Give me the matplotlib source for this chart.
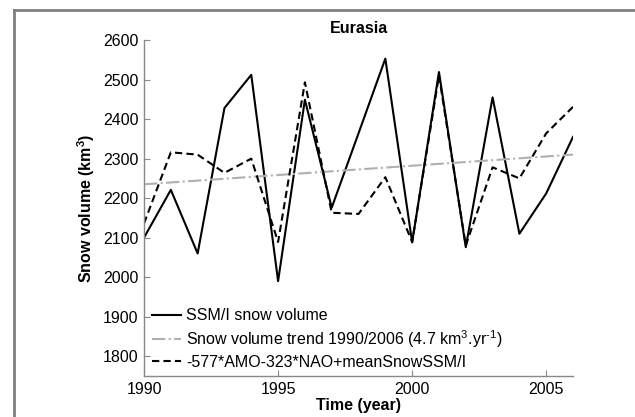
import numpy as np
import matplotlib.pyplot as plt
from matplotlib.lines import Line2D

plt.rcParams['font.family'] = ['Liberation Sans', 'DejaVu Sans']
plt.rcParams['mathtext.fontset'] = 'custom'
plt.rcParams['mathtext.rm'] = 'Liberation Sans'
plt.rcParams['mathtext.it'] = 'Liberation Sans'
plt.rcParams['mathtext.bf'] = 'Liberation Sans:bold'

years = list(range(1990, 2007))
ssmi = [2100, 2221, 2060, 2428, 2512, 1990, 2449, 2176, 2364, 2553,
        2088, 2519, 2076, 2455, 2110, 2212, 2355]
model = [2136, 2316, 2310, 2264, 2300, 2089, 2493, 2163, 2160, 2253,
         2089, 2510, 2080, 2278, 2250, 2364, 2431]
trend_start = 2235
trend_slope = 4.7

fig = plt.figure(figsize=(6.35, 4.17), dpi=100)
ax = fig.add_axes([0.2268, 0.0983, 0.6756, 0.8057])

trend = [trend_start + trend_slope * (y - years[0]) for y in years]

ax.plot(years, ssmi, color='black', lw=1.5, label='SSM/I snow volume')
ax.plot(years, trend, color='#b0b0b0', lw=1.5, ls='-.',
        label='Snow volume trend 1990/2006 (4.7 km$^3$.yr$^{\\text{-}1}$)')
ax.plot(years, model, color='black', lw=1.5, ls=(0, (3.5, 2)),
        label='-577*AMO-323*NAO+meanSnowSSM/I')

ax.set_xlim(1990, 2006)
ax.set_ylim(1750, 2600)
ax.set_xticks([1990, 1995, 2000, 2005])
ax.set_yticks(range(1800, 2601, 100))
ax.tick_params(direction='in', length=4, color='#888888', labelsize=11.5, pad=4)
for s in ['top', 'right']:
    ax.spines[s].set_visible(False)
for s in ['left', 'bottom']:
    ax.spines[s].set_color('#888888')
    ax.spines[s].set_linewidth(1.0)

ax.set_title('Eurasia', fontsize=11.5, fontweight='bold', pad=5)
ax.set_xlabel('Time (year)', fontsize=11.5, fontweight='bold', labelpad=1)
ax.set_ylabel('Snow volume (km$^\\mathbf{3}$)', fontsize=11.5, fontweight='bold', labelpad=4)

ax.legend(loc='lower left', frameon=False, fontsize=11.5, handlelength=1.85,
          handletextpad=0.3, labelspacing=0.3, borderaxespad=0.0,
          bbox_to_anchor=(0.003, 0.0))

# frame lines of the original figure
fig.add_artist(Line2D([0.022, 0.022], [0.0, 0.977], color='#808080', lw=2))
fig.add_artist(Line2D([0.022, 1.0], [0.977, 0.977], color='#808080', lw=2))

fig.savefig('out.png', dpi=100)
